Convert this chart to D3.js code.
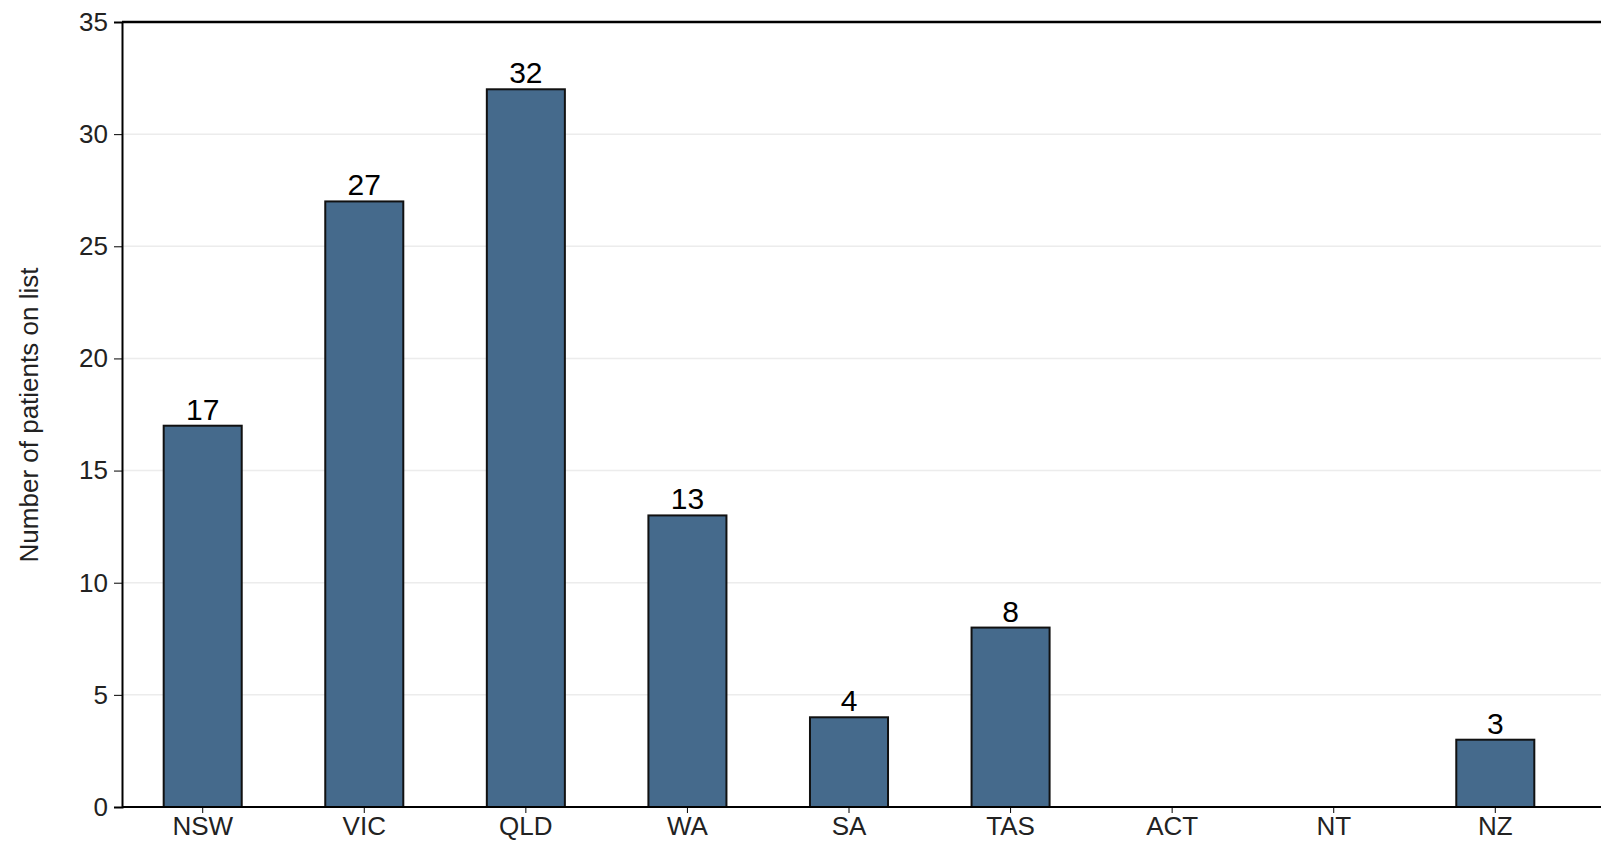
<!DOCTYPE html><html><head><meta charset="utf-8">
<script src="https://cdn.jsdelivr.net/npm/d3@7"></script>
<style>body{margin:0;background:#fff}text{font-family:Arial,"Liberation Sans",sans-serif}</style></head><body>
<svg id="c" width="1601" height="866"></svg>
<script>
const categories=["NSW","VIC","QLD","WA","SA","TAS","ACT","NT","NZ"];
const values=[17,27,32,13,4,8,0,0,3];
const yTicks=[0,5,10,15,20,25,30,35];
const svg=d3.select("#c");
const L=122,T=22,B=807,R=1576;
const x=d3.scaleBand().domain(categories).range([L,R]).paddingInner(0.517).paddingOuter(0.258);
const y=d3.scaleLinear().domain([0,35]).range([B,T]);
svg.append("g").selectAll("line").data(yTicks.slice(1,-1)).join("line")
 .attr("x1",L).attr("x2",1601).attr("y1",d=>y(d)).attr("y2",d=>y(d)).attr("stroke","#ececec").attr("stroke-width",1.5);
svg.append("line").attr("x1",L).attr("x2",1601).attr("y1",T).attr("y2",T).attr("stroke","#000").attr("stroke-width",2.5);
svg.append("g").selectAll("rect").data(values.map((v,i)=>({c:categories[i],v}))).join("rect")
 .attr("x",d=>x(d.c)).attr("width",x.bandwidth()).attr("y",d=>y(d.v)).attr("height",d=>y(0)-y(d.v))
 .attr("fill",d=>d.v?"#456a8c":"none").attr("stroke",d=>d.v?"#111":"none").attr("stroke-width",2);
svg.append("g").selectAll("text").data(values.map((v,i)=>({c:categories[i],v})).filter(d=>d.v>0)).join("text")
 .attr("x",d=>x(d.c)+x.bandwidth()/2).attr("y",d=>y(d.v)-6).attr("text-anchor","middle").attr("font-size",30).text(d=>d.v);
const ya=svg.append("g").attr("transform",`translate(${L},0)`).call(d3.axisLeft(y).tickValues(yTicks).tickSize(8).tickPadding(6));
ya.selectAll("text").attr("font-size",26).attr("fill","#222");
ya.select(".domain").attr("stroke","#000").attr("stroke-width",2);
const xa=svg.append("g").attr("transform",`translate(0,${B})`).call(d3.axisBottom(x).tickSize(6).tickPadding(4));
xa.selectAll("text").attr("font-size",26).attr("fill","#222");
xa.select(".domain").attr("d",`M${L},0H1601`).attr("stroke","#000").attr("stroke-width",2);
svg.append("text").attr("transform","translate(38,415) rotate(-90)").attr("text-anchor","middle").attr("font-size",26).attr("fill","#222").text("Number of patients on list");
</script></body></html>
